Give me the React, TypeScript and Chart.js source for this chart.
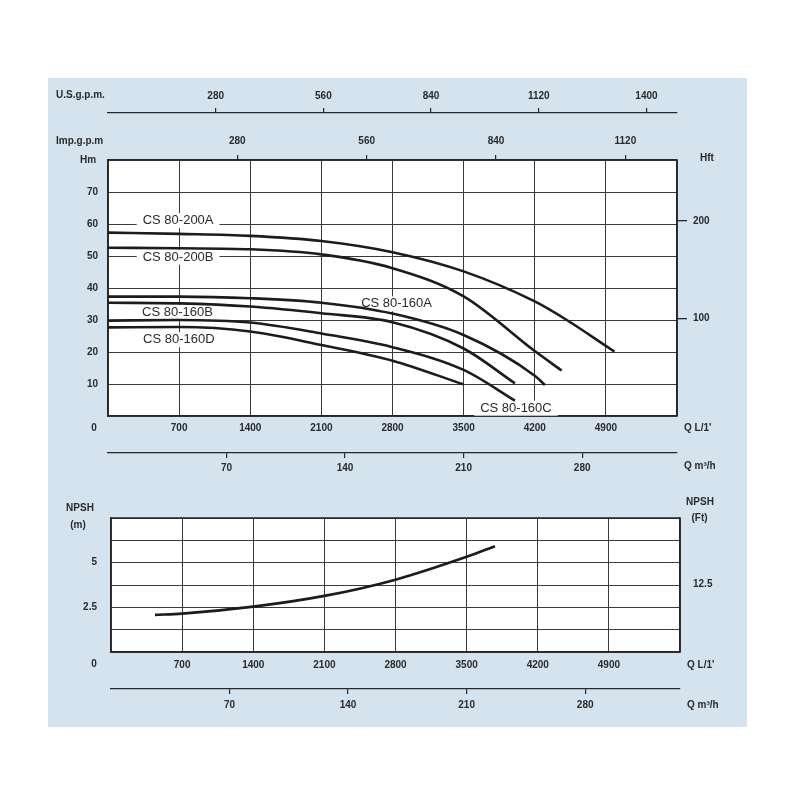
import React, { useEffect, useRef } from "react";
import { Chart, registerables } from "chart.js";

Chart.register(...registerables);

// ---------- unit conversions / ranges ----------
const Q_MAX = 5600; // L/min
const H_MAX = 80; // m
const NPSH_MAX = 7.5; // m
const LPM_TO_USGPM = 0.264172;
const LPM_TO_IMPGPM = 0.219969;
const LPM_TO_M3H = 0.06;
const M_TO_FT = 3.28084;

// ---------- tick labels ----------
const flowTicks = [700, 1400, 2100, 2800, 3500, 4200, 4900];
const headTicks = [10, 20, 30, 40, 50, 60, 70];
const hftTicks = [100, 200];
const impTicks = [280, 560, 840, 1120];
const usTicks = [280, 560, 840, 1120, 1400];
const m3hTicks = [70, 140, 210, 280];
const npshTicks = [2.5, 5];
const npshFtTicks = [12.5];

// ---------- series: Q (L/min) and H (m) ----------
const q200A = [0, 700, 1400, 2100, 2800, 3500, 4200, 4515, 4900, 4985];
const h200A = [57.3, 56.9, 56.3, 54.7, 51.2, 45.2, 35.8, 30.0, 21.9, 20.1];

const q200B = [0, 700, 1400, 2100, 2800, 3500, 4200, 4465];
const h200B = [52.6, 52.4, 52.1, 50.5, 46.2, 37.4, 20.3, 14.2];

const q160A = [0, 700, 1400, 2100, 2800, 3500, 4200, 4300];
const h160A = [37.3, 37.3, 36.8, 35.4, 32.0, 25.3, 12.6, 9.7];

const q160B = [0, 700, 1400, 2100, 2800, 3500, 4005];
const h160B = [35.4, 35.2, 34.2, 32.1, 29.3, 21.1, 10.2];

const q160C = [0, 700, 1400, 2100, 2800, 3500, 4005];
const h160C = [29.8, 30.0, 29.2, 25.8, 21.5, 14.4, 4.8];

const q160D = [0, 700, 1400, 2100, 2800, 3497];
const h160D = [27.7, 27.8, 26.4, 22.2, 17.3, 9.9];

// NPSH curve
const qNpsh = [433, 700, 1400, 2100, 2800, 3500, 3779];
const npshM = [2.08, 2.15, 2.54, 3.14, 4.05, 5.33, 5.92];

// curve labels (anchored in data units)
const labelNames = ["CS 80-200A", "CS 80-200B", "CS 80-160A", "CS 80-160B", "CS 80-160C", "CS 80-160D"];
const labelQ = [690, 690, 2840, 684, 4015, 697];
const labelH = [61.2, 49.8, 35.2, 32.5, 2.6, 24.0];

// ---------- styles ----------
const FONT = '"Liberation Sans", Arial, Helvetica, sans-serif';
const TXT = "#2a2a2a";
const GRID = "#3a3a3a";
const AXIS = "#262626";
const CURVE = "#1c1c1c";
const PANEL = "#d4e3ee";
const tickFont = { family: FONT, size: 10, weight: "bold" as const };

const fix = (size: number) => (scale: any) => {
  if (scale.isHorizontal()) scale.height = size;
  else scale.width = size;
};
const setTicks = (vals: number[]) => (scale: any) => {
  scale.ticks = vals.map((v) => ({ value: v }));
};
const toXY = (xs: number[], ys: number[]) => xs.map((x, i) => ({ x, y: ys[i] }));

const plotFrame = {
  id: "plotFrame",
  beforeDraw(chart: any) {
    const { ctx, chartArea } = chart;
    ctx.save();
    ctx.fillStyle = "#ffffff";
    ctx.fillRect(chartArea.left, chartArea.top, chartArea.width, chartArea.height);
    ctx.restore();
  },
};

const textPlugin = (items: { t: string; x: number; y: number; align: CanvasTextAlign }[]) => ({
  id: "texts",
  afterDraw(chart: any) {
    const ctx = chart.ctx;
    ctx.save();
    ctx.fillStyle = TXT;
    ctx.font = `bold 10px ${FONT}`;
    ctx.textBaseline = "middle";
    for (const it of items) {
      ctx.textAlign = it.align;
      ctx.fillText(it.t, it.x, it.y);
    }
    ctx.restore();
  },
});

const curveLabelPlugin = {
  id: "curveLabels",
  beforeDatasetsDraw(chart: any) {
    const { ctx, scales } = chart;
    ctx.save();
    ctx.font = `13px ${FONT}`;
    ctx.textAlign = "center";
    ctx.textBaseline = "middle";
    labelNames.forEach((name, i) => {
      const x = scales.x.getPixelForValue(labelQ[i]);
      const y = scales.y.getPixelForValue(labelH[i]);
      const w = ctx.measureText(name).width;
      ctx.fillStyle = "#ffffff";
      ctx.fillRect(x - w / 2 - 6, y - 7, w + 12, 15);
      ctx.fillStyle = TXT;
      ctx.fillText(name, x, y + 0.5);
    });
    ctx.restore();
  },
};

const lineDs = (xs: number[], ys: number[]) => ({
  data: toXY(xs, ys),
  borderColor: CURVE,
  borderWidth: 2.6,
  pointRadius: 0,
  fill: false,
  cubicInterpolationMode: "monotone" as const,
  xAxisID: "x",
  yAxisID: "y",
});

const strLabel = (allowed: number[]) => (v: any) => (allowed.includes(Number(v)) ? String(v) : "");

function topConfig(): any {
  return {
    type: "line",
    data: {
      datasets: [
        lineDs(q200A, h200A),
        lineDs(q200B, h200B),
        lineDs(q160A, h160A),
        lineDs(q160B, h160B),
        lineDs(q160C, h160C),
        lineDs(q160D, h160D),
      ],
    },
    options: {
      responsive: false,
      animation: false,
      layout: { padding: 0 },
      plugins: { legend: { display: false }, tooltip: { enabled: false }, title: { display: false } },
      scales: {
        x: {
          type: "linear",
          axis: "x",
          position: "bottom",
          weight: 0,
          min: 0,
          max: Q_MAX,
          ticks: { stepSize: 700, autoSkip: false, maxRotation: 0, padding: 6, font: tickFont, color: TXT, callback: strLabel(flowTicks) },
          grid: { color: GRID, lineWidth: 1, drawTicks: false },
          border: { color: AXIS, width: 1.5 },
          afterFit: fix(37),
        },
        xM3: {
          type: "linear",
          axis: "x",
          position: "bottom",
          weight: 1,
          min: 0,
          max: Q_MAX * LPM_TO_M3H,
          afterBuildTicks: setTicks(m3hTicks),
          ticks: { autoSkip: false, maxRotation: 0, padding: 4, font: tickFont, color: TXT, callback: (v: any) => String(v) },
          grid: { drawOnChartArea: false, tickLength: 5, color: AXIS, lineWidth: 1.2 },
          border: { color: AXIS, width: 1.2 },
          afterFit: fix(37),
        },
        xImp: {
          type: "linear",
          axis: "x",
          position: "top",
          weight: 0,
          min: 0,
          max: Q_MAX * LPM_TO_IMPGPM,
          afterBuildTicks: setTicks(impTicks),
          ticks: { autoSkip: false, maxRotation: 0, padding: 8, font: tickFont, color: TXT, callback: (v: any) => String(v) },
          grid: { drawOnChartArea: false, tickLength: 5, color: AXIS, lineWidth: 1.2 },
          border: { color: AXIS, width: 1.5 },
          afterFit: fix(47),
        },
        xUs: {
          type: "linear",
          axis: "x",
          position: "top",
          weight: 1,
          min: 0,
          max: Q_MAX * LPM_TO_USGPM,
          afterBuildTicks: setTicks(usTicks),
          ticks: { autoSkip: false, maxRotation: 0, padding: 6, font: tickFont, color: TXT, callback: (v: any) => String(v) },
          grid: { drawOnChartArea: false, tickLength: 5, color: AXIS, lineWidth: 1.2 },
          border: { color: AXIS, width: 1.2 },
          afterFit: fix(113),
        },
        y: {
          type: "linear",
          axis: "y",
          position: "left",
          weight: 0,
          min: 0,
          max: H_MAX,
          ticks: { stepSize: 10, autoSkip: false, padding: 10, font: tickFont, color: TXT, callback: strLabel(headTicks) },
          grid: { color: GRID, lineWidth: 1, drawTicks: false },
          border: { color: AXIS, width: 1.5 },
          afterFit: fix(108),
        },
        yFt: {
          type: "linear",
          axis: "y",
          position: "right",
          weight: 0,
          min: 0,
          max: H_MAX * M_TO_FT,
          afterBuildTicks: setTicks(hftTicks),
          ticks: { autoSkip: false, padding: 6, font: tickFont, color: TXT, callback: (v: any) => String(v) },
          grid: { drawOnChartArea: false, tickLength: 10, color: AXIS, lineWidth: 1.3 },
          border: { color: AXIS, width: 1.5 },
          afterFit: fix(123),
        },
      },
    },
    plugins: [
      plotFrame,
      curveLabelPlugin,
      textPlugin([
        { t: "U.S.g.p.m.", x: 56, y: 95.5, align: "left" },
        { t: "Imp.g.p.m", x: 56, y: 141, align: "left" },
        { t: "Hm", x: 88, y: 160.5, align: "center" },
        { t: "Hft", x: 707, y: 158.5, align: "center" },
        { t: "0", x: 94, y: 428, align: "center" },
        { t: "Q L/1'", x: 684, y: 428, align: "left" },
        { t: "Q m\u00B3/h", x: 684, y: 466, align: "left" },
      ]),
    ],
  };
}

function bottomConfig(): any {
  return {
    type: "line",
    data: {
      datasets: [lineDs(qNpsh, npshM)],
    },
    options: {
      responsive: false,
      animation: false,
      layout: { padding: { top: 28, left: 0, right: 0, bottom: 0 } },
      plugins: { legend: { display: false }, tooltip: { enabled: false }, title: { display: false } },
      scales: {
        x: {
          type: "linear",
          axis: "x",
          position: "bottom",
          weight: 0,
          min: 0,
          max: Q_MAX,
          ticks: { stepSize: 700, autoSkip: false, maxRotation: 0, padding: 7, font: tickFont, color: TXT, callback: strLabel(flowTicks) },
          grid: { color: GRID, lineWidth: 1, drawTicks: false },
          border: { color: AXIS, width: 1.5 },
          afterFit: fix(37),
        },
        xM3: {
          type: "linear",
          axis: "x",
          position: "bottom",
          weight: 1,
          min: 0,
          max: Q_MAX * LPM_TO_M3H,
          afterBuildTicks: setTicks(m3hTicks),
          ticks: { autoSkip: false, maxRotation: 0, padding: 5, font: tickFont, color: TXT, callback: (v: any) => String(v) },
          grid: { drawOnChartArea: false, tickLength: 5, color: AXIS, lineWidth: 1.2 },
          border: { color: AXIS, width: 1.2 },
          afterFit: fix(111),
        },
        y: {
          type: "linear",
          axis: "y",
          position: "left",
          weight: 0,
          min: 0,
          max: NPSH_MAX,
          ticks: { stepSize: 1.25, autoSkip: false, padding: 14, font: tickFont, color: TXT, callback: strLabel(npshTicks) },
          grid: { color: GRID, lineWidth: 1, drawTicks: false },
          border: { color: AXIS, width: 1.5 },
          afterFit: fix(111),
        },
        yFt: {
          type: "linear",
          axis: "y",
          position: "right",
          weight: 0,
          min: 0,
          max: NPSH_MAX * M_TO_FT,
          afterBuildTicks: setTicks(npshFtTicks),
          ticks: { autoSkip: false, padding: 13, font: tickFont, color: TXT, callback: (v: any) => String(v) },
          grid: { drawOnChartArea: false, drawTicks: false, color: AXIS },
          border: { color: AXIS, width: 1.5 },
          afterFit: fix(120),
        },
      },
    },
    plugins: [
      plotFrame,
      {
        id: "topBorder",
        afterDraw(chart: any) {
          const { ctx, chartArea } = chart;
          ctx.save();
          ctx.strokeStyle = AXIS;
          ctx.lineWidth = 1.5;
          ctx.beginPath();
          ctx.moveTo(chartArea.left, chartArea.top);
          ctx.lineTo(chartArea.right, chartArea.top);
          ctx.stroke();
          ctx.restore();
        },
      },
      textPlugin([
        { t: "NPSH", x: 80, y: 18.3, align: "center" },
        { t: "(m)", x: 78, y: 35, align: "center" },
        { t: "NPSH", x: 700, y: 12.7, align: "center" },
        { t: "(Ft)", x: 699.5, y: 28.3, align: "center" },
        { t: "0", x: 94, y: 174, align: "center" },
        { t: "Q L/1'", x: 687, y: 175, align: "left" },
        { t: "Q m\u00B3/h", x: 687, y: 215, align: "left" },
      ]),
    ],
  };
}

export default function App() {
  const topRef = useRef<HTMLCanvasElement>(null);
  const botRef = useRef<HTMLCanvasElement>(null);

  useEffect(() => {
    const c1 = new Chart(topRef.current as HTMLCanvasElement, topConfig());
    const c2 = new Chart(botRef.current as HTMLCanvasElement, bottomConfig());
    return () => {
      c1.destroy();
      c2.destroy();
    };
  }, []);

  return (
    <div style={{ position: "absolute", left: 0, top: 0, width: 800, height: 800, background: "#ffffff" }}>
      <div style={{ position: "absolute", left: 48, top: 78, width: 699, height: 649, background: PANEL }} />
      <canvas
        ref={topRef}
        width={800}
        height={490}
        style={{ position: "absolute", left: 0, top: 0, width: 800, height: 490 }}
      />
      <canvas
        ref={botRef}
        width={800}
        height={310}
        style={{ position: "absolute", left: 0, top: 490, width: 800, height: 310 }}
      />
    </div>
  );
}
